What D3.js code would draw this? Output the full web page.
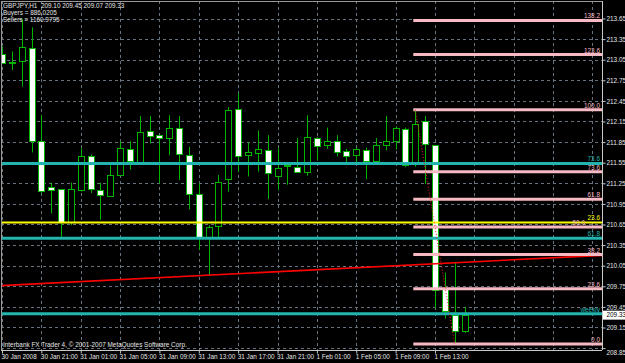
<!DOCTYPE html>
<html><head><meta charset="utf-8">
<script src="https://cdn.jsdelivr.net/npm/d3@7"></script>
<style>html,body{margin:0;padding:0;background:#000;overflow:hidden}</style>
</head><body>
<svg id="c" width="625" height="363"></svg>
<script>
// ---- data (GBPJPY H1, 30 Jan 17:00 -> 1 Feb 16:00) ----
const openP  = [213.13,213.02,213.03,213.22,211.86,211.19,211.17,210.69,211.15,211.65,211.15,211.07,211.37,211.75,211.57,212.01,211.95,211.91,212.06,211.66,211.09,210.46,210.63,211.31,212.33,211.66,211.69,211.73,211.37,211.51,211.49,211.41,211.91,211.81,211.86,211.72,211.66,211.74,211.58,211.80,211.87,212.04,211.54,212.16,211.81,209.71,209.33,209.10];
const highP  = [213.24,213.17,213.64,213.52,212.24,211.26,211.17,211.26,211.76,211.67,211.26,211.51,211.86,211.86,212.23,212.23,211.95,212.24,212.23,211.78,211.25,210.64,211.37,212.36,212.56,211.84,212.02,211.95,211.76,211.54,211.91,212.24,211.92,212.06,211.95,211.75,211.77,211.77,211.91,212.23,212.08,212.06,212.32,212.23,211.81,209.95,210.09,209.45];
const lowP   = [213.00,212.90,212.66,211.70,211.10,210.81,210.47,210.64,211.13,211.11,210.72,211.05,211.36,211.45,211.56,211.83,211.25,211.66,211.30,210.87,210.28,209.91,210.46,211.13,211.42,211.35,211.42,211.02,211.15,211.23,211.40,211.36,211.58,211.75,211.64,211.55,211.55,211.31,211.54,211.73,211.74,211.49,211.49,211.24,209.43,209.28,208.92,209.07];
const closeP = [213.00,213.01,213.23,211.86,211.13,211.14,210.69,211.17,211.65,211.17,211.07,211.37,211.76,211.58,212.00,211.94,211.91,212.06,211.68,211.09,210.46,210.61,211.27,212.32,211.65,211.70,211.75,211.40,211.48,211.50,211.42,211.92,211.80,211.87,211.70,211.65,211.75,211.58,211.81,211.86,212.06,211.52,212.11,211.82,209.70,209.39,209.09,209.33];

const priceTicks = [213.65,213.35,213.05,212.75,212.45,212.15,211.85,211.55,211.25,210.95,210.65,210.35,210.05,209.75,209.45,209.15,208.85];
const timeTickIdx = [0,4,8,12,16,20,24,28,32,36,40,44];
const timeTickLabels = ["30 Jan 2008","30 Jan 21:00","31 Jan 01:00","31 Jan 05:00","31 Jan 09:00","31 Jan 13:00","31 Jan 17:00","31 Jan 21:00","1 Feb 01:00","1 Feb 05:00","1 Feb 09:00","1 Feb 13:00"];

const tealLevels = [211.54, 210.45, 209.35];
const tealLabels = ["73.6", "61.8", "weekly"];
const yellowLevels = [210.68];
const yellowLabels = ["23.6"];
const fibLevels = [0, 23.6, 38.2, 50.0, 61.8, 73.6, 100.0, 123.6, 138.2];
const fibLabels = ["0.0","23.6","38.2","50.0","61.8","73.6","100.0","123.6","138.2"];
const fibAnchorIdx = [42, 46];
const fibAnchorPrice = [212.32, 208.91];
const trendIdx = [0, 47];
const trendPrice = [209.76, 210.10];

const titleText = "GBPJPY,H1  209.10 209.45 209.07 209.33";
const infoTexts = ["Buyers = 886.0205", "Sellers = 1160.9795"];
const footerText = "Interbank FX Trader 4, \u00A9 2001-2007 MetaQuotes Software Corp.";
const lastPrice = 209.33;

// ---- drawing ----
const W = 625, H = 363;
const plot = {l: 1, t: 1, r: 602, b: 350};
const FONT = "'Liberation Sans', Arial, sans-serif";
const FS = 6.4;
const GREEN = "#00b400";

const svg = d3.select("#c");
svg.append("rect").attr("width", W).attr("height", H).attr("fill", "#000");

const x = d3.scaleLinear().domain([0, 47]).range([2, 464.5]);
const y = d3.scaleLinear().domain([208.85, 213.65]).range([348.1, 18.5]);

const bars = openP.map((o, i) => ({i, o, h: highP[i], l: lowP[i], c: closeP[i]}));

svg.append("clipPath").attr("id", "pc").append("rect")
  .attr("x", plot.l).attr("y", plot.t).attr("width", plot.r - plot.l).attr("height", plot.b - plot.t);

const g = svg.append("g").attr("clip-path", "url(#pc)");

// grid
const gridCol = "#66737f";
g.selectAll(".hg").data(priceTicks).join("line")
  .attr("x1", plot.l).attr("x2", plot.r)
  .attr("y1", d => Math.round(y(d)) + 0.5).attr("y2", d => Math.round(y(d)) + 0.5)
  .attr("stroke", gridCol).attr("stroke-width", 1).attr("stroke-dasharray", "3,3");
const vGrid = d3.range(0, 61, 4);
g.selectAll(".vg").data(vGrid).join("line")
  .attr("x1", d => Math.round(x(d)) + 0.5).attr("x2", d => Math.round(x(d)) + 0.5)
  .attr("y1", plot.t).attr("y2", plot.b)
  .attr("stroke", gridCol).attr("stroke-width", 1).attr("stroke-dasharray", "3,3");

// candles
const cg = g.append("g");
cg.selectAll(".wick").data(bars).join("line")
  .attr("x1", d => Math.round(x(d.i)) + 0.5).attr("x2", d => Math.round(x(d.i)) + 0.5)
  .attr("y1", d => y(d.h)).attr("y2", d => y(d.l))
  .attr("stroke", GREEN).attr("stroke-width", 1);
cg.selectAll(".body").data(bars).join("rect")
  .attr("x", d => Math.round(x(d.i)) - 3 + 0.5)
  .attr("width", 6)
  .attr("y", d => Math.round(y(Math.max(d.o, d.c))) + 0.5)
  .attr("height", d => Math.max(1, Math.round(Math.abs(y(d.o) - y(d.c)))))
  .attr("fill", d => d.c >= d.o ? "#000" : "#fff")
  .attr("stroke", GREEN).attr("stroke-width", 1);

// red trend line
const tr = d3.scaleLinear().domain(trendIdx).range(trendPrice);
const ix0 = x.invert(plot.l), ix1 = x.invert(plot.r);
g.append("line")
  .attr("x1", plot.l).attr("x2", plot.r)
  .attr("y1", y(tr(ix0))).attr("y2", y(tr(ix1)))
  .attr("stroke", "#ff0000").attr("stroke-width", 1.6);

// teal horizontal lines
g.selectAll(".teal").data(tealLevels).join("line")
  .attr("x1", plot.l).attr("x2", plot.r)
  .attr("y1", d => y(d)).attr("y2", d => y(d))
  .attr("stroke", "#22b4ae").attr("stroke-width", 3);
// yellow
g.selectAll(".yel").data(yellowLevels).join("line")
  .attr("x1", plot.l).attr("x2", plot.r)
  .attr("y1", d => y(d)).attr("y2", d => y(d))
  .attr("stroke", "#ffff00").attr("stroke-width", 2);

// fibonacci
const fibRange = fibAnchorPrice[0] - fibAnchorPrice[1];
const fibPrices = fibLevels.map(L => fibAnchorPrice[1] + L / 100 * fibRange);
const fx0 = x(fibAnchorIdx[0]) - 2;
g.selectAll(".fib").data(fibPrices).join("line")
  .attr("x1", fx0).attr("x2", plot.r)
  .attr("y1", d => y(d)).attr("y2", d => y(d))
  .attr("stroke", "#f7b9c3").attr("stroke-width", 3);
g.append("line")
  .attr("x1", x(fibAnchorIdx[0])).attr("y1", y(fibAnchorPrice[0]))
  .attr("x2", x(fibAnchorIdx[1])).attr("y2", y(fibAnchorPrice[1]))
  .attr("stroke", "#ff2020").attr("stroke-width", 1).attr("stroke-dasharray", "1,2");

// line labels (the 50.0 label sits left of the yellow 23.6 label, as in the reference)
function lineLabels(levels, labels, color, xEnd) {
  svg.append("g").selectAll("text").data(levels).join("text")
    .attr("x", (d, i) => xEnd(labels[i])).attr("y", d => y(d) - 2)
    .attr("text-anchor", "end")
    .attr("font-family", FONT).attr("font-size", FS)
    .attr("fill", color)
    .text((d, i) => labels[i]);
}
lineLabels(fibPrices, fibLabels, "#f7b9c3", l => l === "50.0" ? 585 : 600);
lineLabels(tealLevels, tealLabels, "#22b4ae", () => 600);
lineLabels(yellowLevels, yellowLabels, "#ffff00", () => 600);

// frame
const frameCol = "#c8c8c8";
svg.append("line").attr("x1", plot.l).attr("x2", plot.r).attr("y1", plot.t + 0.5).attr("y2", plot.t + 0.5).attr("stroke", "#9a9a9a");
svg.append("line").attr("x1", plot.l + 0.5).attr("x2", plot.l + 0.5).attr("y1", plot.t).attr("y2", plot.b).attr("stroke", "#9a9a9a");
svg.append("line").attr("x1", plot.r + 0.5).attr("x2", plot.r + 0.5).attr("y1", plot.t).attr("y2", plot.b).attr("stroke", frameCol);
svg.append("line").attr("x1", plot.l).attr("x2", plot.r).attr("y1", plot.b + 0.5).attr("y2", plot.b + 0.5).attr("stroke", frameCol);

// price axis
const yAxis = d3.axisRight(y).tickValues(priceTicks).tickFormat(d3.format(".2f")).tickSize(3).tickPadding(1);
const ya = svg.append("g").attr("transform", `translate(${plot.r + 0.5},0)`).call(yAxis);
ya.select(".domain").remove();
ya.selectAll("line").attr("stroke", frameCol);
ya.selectAll("text").attr("font-family", FONT).attr("font-size", FS).attr("fill", "#e6e6e6")
  .attr("dy", "0.35em")
  .attr("transform", d => d === 208.85 ? "translate(0,4)" : null);

// time axis
const xAxis = d3.axisBottom(x).tickValues(timeTickIdx).tickFormat((d, i) => timeTickLabels[i]).tickSize(3);
const xa = svg.append("g").attr("transform", `translate(0,${plot.b + 0.5})`).call(xAxis);
xa.select(".domain").remove();
xa.selectAll("line").attr("stroke", frameCol);
xa.selectAll("text").attr("font-family", FONT).attr("font-size", FS).attr("fill", "#e6e6e6")
  .attr("text-anchor", "start").attr("x", -1).attr("y", 4).attr("dy", "0.71em");

// current price box
svg.append("rect").attr("x", plot.r + 1).attr("y", y(lastPrice) - 4.5).attr("width", W - plot.r - 1).attr("height", 9).attr("fill", "#fff");
svg.append("text").attr("x", plot.r + 4.5).attr("y", y(lastPrice)).attr("dy", "0.35em")
  .attr("font-family", FONT).attr("font-size", FS).attr("fill", "#000").text(lastPrice.toFixed(2));

// top-left text
svg.append("text").attr("x", 3).attr("y", 8.3).attr("font-family", FONT).attr("font-size", FS)
  .attr("fill", "#e6e6e6").attr("xml:space", "preserve").style("white-space", "pre").text(titleText);
svg.selectAll(".info").data(infoTexts).join("text")
  .attr("x", 3).attr("y", (d, i) => 14.8 + i * 7)
  .attr("font-family", FONT).attr("font-size", FS).attr("fill", "#e6e6e6").text(d => d);

// footer
svg.append("text").attr("x", 3).attr("y", 347).attr("font-family", FONT).attr("font-size", FS)
  .attr("fill", "#e6e6e6").text(footerText);
</script>
</body></html>
